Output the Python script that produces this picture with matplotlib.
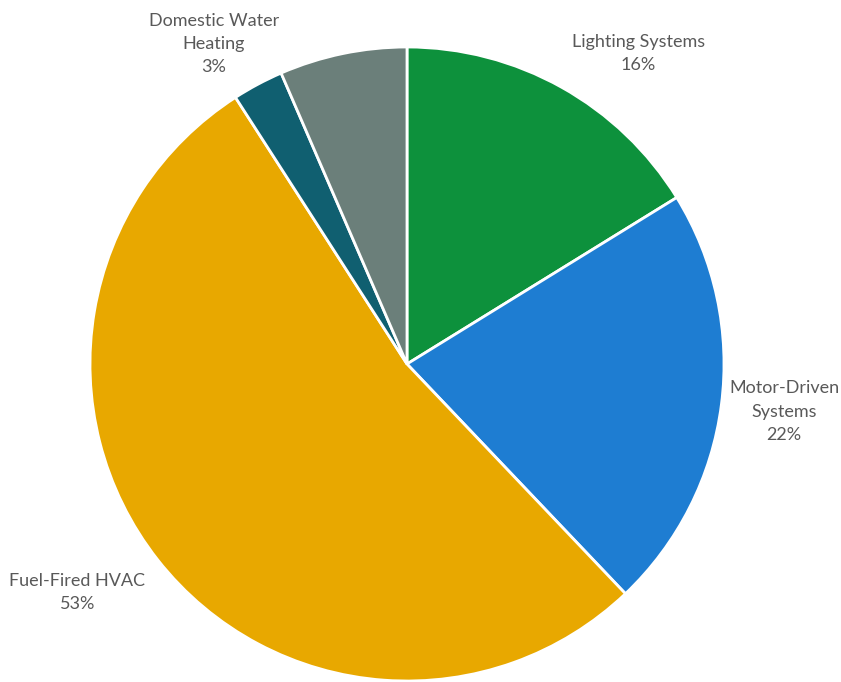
import matplotlib
matplotlib.use("Agg")
import matplotlib.pyplot as plt

# slice data, clockwise from 12 o'clock
categories = ["Lighting Systems", "Motor-Driven\nSystems", "Fuel-Fired HVAC",
              "Domestic Water\nHeating", ""]
shares = [16.2, 21.7, 53.0, 2.6, 6.5]
pct_labels = ["16%", "22%", "53%", "3%", ""]
colors = ["#0d913c", "#1e7dd2", "#e8a800", "#105f70", "#6b7f7a"]

# label centres (x, y of middle line) in pie-radius units
label_pos = [(0.73, 0.98), (1.19, -0.15), (-1.04, -0.72), (-0.61, 1.01), None]

plt.rcParams['font.family'] = ['Lato', 'DejaVu Sans']

W, H = 841, 682
fig = plt.figure(figsize=(W / 100, H / 100), dpi=100)
cx, cy, r = 407, 364, 317
ax = fig.add_axes([(cx - r) / W, (H - cy - r) / H, 2 * r / W, 2 * r / H])

ax.pie(shares, colors=colors, startangle=90, counterclock=False,
       wedgeprops=dict(edgecolor="white", linewidth=2))
ax.set_xlim(-1, 1)
ax.set_ylim(-1, 1)
ax.set_aspect('auto')

for name, pct, pos in zip(categories, pct_labels, label_pos):
    if pos is None:
        continue
    ax.text(pos[0], pos[1], name + "\n" + pct, ha="center", va="center",
            fontsize=13, color="#595959", linespacing=1.55, clip_on=False)

fig.savefig("out.png", dpi=100)
